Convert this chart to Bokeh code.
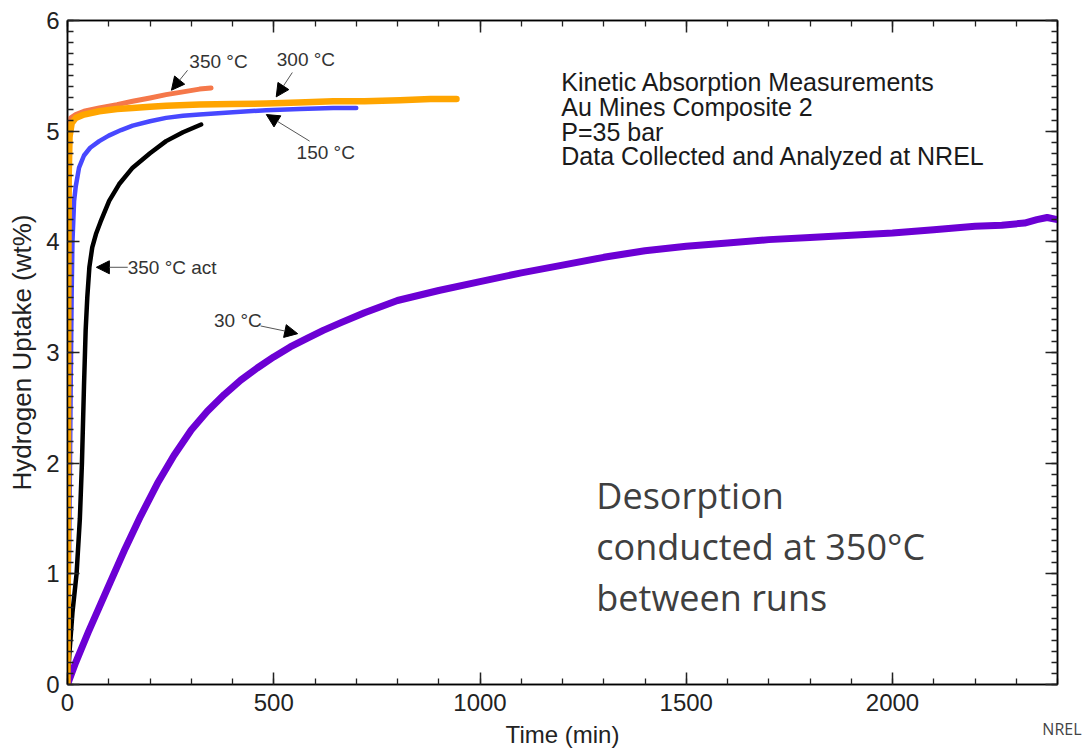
from bokeh.plotting import figure
from bokeh.models import (LinearAxis, SingleIntervalTicker, Range1d, Arrow,
                          NormalHead, Label, Title)
from bokeh.embed import file_html
from bokeh.resources import INLINE

# ---------------- data ----------------
t_30 = [0, 20, 50, 96, 140, 177, 220, 258, 300, 339, 380, 420, 460, 500, 540,
        582, 620, 663, 720, 800, 900, 1000, 1100, 1200, 1300, 1400, 1500, 1600,
        1700, 1800, 1900, 2000, 2100, 2200, 2265, 2320, 2350, 2375, 2400]
y_30 = [0, 0.2, 0.47, 0.86, 1.23, 1.52, 1.83, 2.07, 2.3, 2.47, 2.62, 2.75, 2.86,
        2.96, 3.05, 3.13, 3.2, 3.27, 3.36, 3.47, 3.56, 3.64, 3.72, 3.79, 3.86,
        3.92, 3.96, 3.99, 4.02, 4.04, 4.06, 4.08, 4.11, 4.14, 4.15, 4.17, 4.2,
        4.22, 4.2]

t_act = [0, 5, 12, 22, 30, 35, 40, 44, 48, 53, 60, 69, 80, 101, 125, 158, 200,
         239, 280, 324]
y_act = [0, 0.3, 0.65, 1.0, 1.5, 2.0, 2.7, 3.2, 3.5, 3.77, 3.95, 4.07, 4.18,
         4.37, 4.52, 4.67, 4.80, 4.91, 4.99, 5.06]

t_150 = [0, 2, 4, 6, 8, 10, 12, 16, 20, 28, 40, 55, 77, 100, 130, 158, 200, 239,
         280, 320, 401, 482, 563, 644, 700]
y_150 = [0, 0.6, 1.2, 2.0, 2.8, 3.5, 4.0, 4.37, 4.5, 4.67, 4.78, 4.85, 4.91,
         4.96, 5.01, 5.05, 5.09, 5.12, 5.14, 5.15, 5.17, 5.19, 5.20, 5.21, 5.21]

t_300 = [0, 1, 2, 3, 5, 10, 20, 40, 77, 120, 158, 200, 240, 320, 400, 482, 560,
         644, 720, 806, 880, 943]
y_300 = [0, 1.5, 3.5, 4.6, 4.95, 5.07, 5.12, 5.15, 5.18, 5.20, 5.21, 5.22, 5.23,
         5.24, 5.245, 5.25, 5.26, 5.27, 5.27, 5.28, 5.29, 5.29]

t_350 = [0, 1, 2, 3, 5, 8, 20, 40, 77, 120, 158, 200, 239, 280, 320, 348]
y_350 = [0, 1.5, 3.5, 4.6, 4.95, 5.12, 5.15, 5.18, 5.21, 5.24, 5.27, 5.30, 5.33,
         5.355, 5.38, 5.39]

x_ticks_interval = 500
y_ticks_interval = 1

info_lines = ["Kinetic Absorption Measurements", "Au Mines Composite 2",
              "P=35 bar", "Data Collected and Analyzed at NREL"]
note_lines = ["Desorption", "conducted at 350\u00b0C", "between runs"]

FONT = "Liberation Sans"

p = figure(frame_width=990, frame_height=664,
           min_border_left=67, min_border_top=20, min_border_right=31,
           min_border_bottom=67,
           x_range=Range1d(0, 2400), y_range=Range1d(0, 6),
           output_backend="svg", toolbar_location=None,
           background_fill_color="white", border_fill_color="white")
p.grid.visible = False
p.outline_line_color = "black"
p.outline_line_width = 1.5

def style_axis(ax, labels=True):
    ax.major_tick_in = 12
    ax.major_tick_out = 0
    ax.minor_tick_in = 6
    ax.minor_tick_out = 0
    ax.major_tick_line_width = 1.5
    ax.minor_tick_line_width = 1.3
    ax.major_tick_line_color = "#222222"
    ax.minor_tick_line_color = "#222222"
    ax.axis_line_color = "black"
    ax.axis_line_width = 1.5
    if labels:
        ax.major_label_text_font = FONT
        ax.major_label_text_font_size = "24px"
        ax.major_label_text_color = "#222222"
        ax.axis_label_text_font = FONT
        ax.axis_label_text_font_size = "24px"
        ax.axis_label_text_font_style = "normal"
        ax.axis_label_text_color = "#222222"
    else:
        ax.major_label_text_font_size = "0px"
        ax.major_label_standoff = 0

p.xaxis.ticker = SingleIntervalTicker(interval=x_ticks_interval, num_minor_ticks=5)
p.yaxis.ticker = SingleIntervalTicker(interval=y_ticks_interval, num_minor_ticks=10)
p.xaxis.axis_label = "Time (min)"
p.yaxis.axis_label = "Hydrogen Uptake (wt%)"
style_axis(p.xaxis[0])
style_axis(p.yaxis[0])
p.yaxis.axis_label_text_font_size = "26px"
p.xaxis.major_label_standoff = 9
p.xaxis.axis_label_standoff = 7
p.yaxis.major_label_standoff = 8
p.yaxis.axis_label_standoff = 6

top = LinearAxis(ticker=SingleIntervalTicker(interval=x_ticks_interval, num_minor_ticks=5))
style_axis(top, labels=False)
p.add_layout(top, "above")
right = LinearAxis(ticker=SingleIntervalTicker(interval=y_ticks_interval, num_minor_ticks=10))
style_axis(right, labels=False)
p.add_layout(right, "right")

# curves
p.line(t_30, y_30, line_color="#6c00d4", line_width=7, line_cap="round", line_join="round")
p.line(t_act, y_act, line_color="black", line_width=4.5, line_cap="round", line_join="round")
p.line(t_150, y_150, line_color="#4848ff", line_width=4.5, line_cap="round", line_join="round")
p.line(t_350, y_350, line_color="#f5784a", line_width=5, line_cap="round", line_join="round")
p.line(t_300, y_300, line_color="#ffa500", line_width=6.5, line_cap="round", line_join="round")

# annotations
def arrow(x0, y0, x1, y1):
    p.add_layout(Arrow(end=NormalHead(size=13, fill_color="black", line_color="black"),
                       x_start=x0, y_start=y0, x_end=x1, y_end=y1,
                       line_color="#555555", line_width=1))

def lab(x, y, text, size="19px", align="center", color="#333333", font=FONT):
    p.add_layout(Label(x=x, y=y, text=text, text_font=font, text_font_size=size,
                       text_align=align, text_baseline="middle", text_color=color))

arrow(291, 5.55, 252, 5.37)
lab(366, 5.63, "350 \u00b0C")
arrow(545, 5.53, 506, 5.31)
lab(578, 5.65, "300 \u00b0C")
arrow(587, 4.91, 482, 5.15)
lab(626, 4.81, "150 \u00b0C")
arrow(146, 3.77, 70, 3.77)
lab(146, 3.77, "350 \u00b0C act", align="left")
arrow(468, 3.24, 558, 3.17)
lab(413, 3.29, "30 \u00b0C")

for i, line in enumerate(info_lines):
    lab(1197, 5.44 - i * 0.222, line, size="25px", align="left", color="#1a1a1a")

for i, line in enumerate(note_lines):
    lab(1282, 1.71 - i * 0.46, line, size="36px", align="left", color="#3f3f3f",
        font="Open Sans")

credit = Title(text="NREL", align="right", vertical_align="top",
               text_font="Open Sans", text_font_size="16px",
               text_font_style="normal", text_color="#444444",
               standoff=-66, offset=-24)
p.add_layout(credit, "below")

open("out.html", "w").write(file_html(p, INLINE))
